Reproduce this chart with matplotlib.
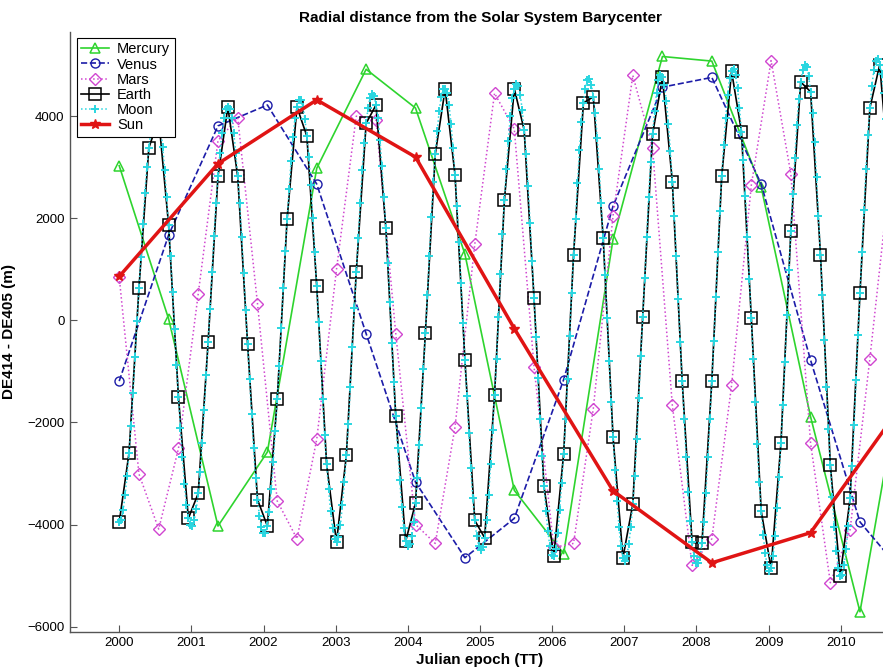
import numpy as np
import matplotlib
matplotlib.use('Agg')
import matplotlib.pyplot as plt

plt.rcParams['font.family'] = ['Liberation Sans', 'DejaVu Sans']

# DE414 - DE405 radial distance differences (m), sampled every N days from J2000
mercury = [3030, 30, -4030, -2580, 2980, 4920, 4160, 1300, -3330, -4570,
           1590, 5170, 5080, 2610, -1890, -5710, -200]
venus = [-1190, 1670, 3810, 4220, 2670, -260, -3170, -4650, -3880, -1160,
         2240, 4570, 4760, 2670, -780, -3950, -5100]
mars = [850, -3010, -4090, -2510, 520, 3520, 3970, 330, -3540, -4280,
        -2330, 1000, 4000, 3930, -260, -4000, -4370, -2090, 1490, 4450,
        3750, -910, -4450, -4370, -1730, 2050, 4800, 3370, -1660, -4800,
        -4280, -1270, 2650, 5090, 2870, -2410, -5140, -4100, -750, 2800]
earth = [-3960, -2590, 630, 3380, 3950, 1870, -1510, -3880, -3390, -430,
         2820, 4180, 2820, -470, -3510, -4030, -1550, 1990, 4180, 3610,
         670, -2820, -4350, -2640, 950, 3860, 4220, 1800, -1880, -4330,
         -3580, -240, 3260, 4530, 2850, -770, -3920, -4260, -1470, 2360,
         4540, 3730, 430, -3240, -4620, -2610, 1280, 4260, 4380, 1610,
         -2290, -4650, -3600, 70, 3650, 4760, 2720, -1190, -4350, -4370,
         -1190, 2820, 4880, 3700, 40, -3740, -4850, -2400, 1750, 4670,
         4480, 1290, -2840, -5010, -3490, 540, 4160, 5010, 2700]
moon = [-3960, -3910, -3720, -3420, -3040, -2590, -2060, -1420, -720, -10,
        630, 1250, 1890, 2490, 3000, 3380, 3700, 3930, 4060, 4070,
        3950, 3750, 3400, 2950, 2420, 1870, 1270, 560, -170, -880,
        -1510, -2100, -2680, -3200, -3610, -3880, -4010, -4020, -3910, -3700,
        -3390, -2970, -2400, -1760, -1080, -430, 230, 950, 1660, 2300,
        2820, 3280, 3670, 3960, 4140, 4180, 4140, 3960, 3670, 3280,
        2820, 2290, 1640, 920, 200, -470, -1140, -1840, -2500, -3080,
        -3510, -3830, -4050, -4170, -4160, -4030, -3750, -3310, -2770, -2170,
        -1550, -890, -150, 630, 1360, 1990, 2570, 3120, 3600, 3970,
        4180, 4310, 4310, 4180, 3950, 3610, 3200, 2650, 2010, 1330,
        670, -30, -790, -1550, -2250, -2820, -3310, -3740, -4070, -4290,
        -4350, -4250, -4000, -3620, -3160, -2640, -2040, -1310, -530, 250,
        950, 1620, 2300, 2940, 3470, 3860, 4170, 4360, 4440, 4400,
        4220, 3960, 3540, 3020, 2420, 1800, 1130, 360, -440, -1210,
        -1880, -2510, -3120, -3650, -4070, -4330, -4430, -4390, -4230, -3950,
        -3580, -3090, -2450, -1720, -960, -240, 490, 1260, 2030, 2710,
        3260, 3720, 4110, 4380, 4530, 4530, 4450, 4210, 3840, 3380,
        2850, 2250, 1530, 740, -50, -770, -1480, -2210, -2900, -3490,
        -3920, -4230, -4420, -4500, -4440, -4260, -3920, -3430, -2820, -2150,
        -1470, -750, 70, 900, 1690, 2360, 2960, 3520, 4000, 4350,
        4540, 4640, 4600, 4420, 4130, 3730, 3250, 2630, 1910, 1160,
        430, -320, -1130, -1930, -2660, -3240, -3730, -4130, -4430, -4600,
        -4620, -4470, -4160, -3720, -3190, -2610, -1940, -1150, -300, 530,
        1280, 1990, 2690, 3340, 3880, 4260, 4540, 4700, 4720, 4620,
        4380, 4060, 3570, 2960, 2290, 1610, 880, 50, -800, -1600,
        -2290, -2930, -3530, -4040, -4430, -4650, -4710, -4610, -4380, -4040,
        -3600, -3040, -2320, -1520, -700, 70, 830, 1640, 2420, 3110,
        3650, 4100, 4460, 4700, 4810, 4760, 4610, 4300, 3850, 3320,
        2720, 2050, 1260, 410, -430, -1190, -1930, -2670, -3360, -3940,
        -4350, -4620, -4750, -4750, -4630, -4370, -3960, -3380, -2680, -1940,
        -1190, -410, 450, 1330, 2140, 2820, 3430, 3970, 4420, 4740,
        4880, 4920, 4800, 4550, 4170, 3700, 3150, 2440, 1640, 820,
        40, -760, -1600, -2430, -3160, -3740, -4200, -4560, -4800, -4910,
        -4850, -4620, -4220, -3680, -3060, -2400, -1660, -810, 100, 980,
        1750, 2470, 3180, 3820, 4330, 4670, 4910, 5010, 4970, 4790,
        4480, 4070, 3490, 2800, 2040, 1290, 490, -390, -1300, -2130,
        -2840, -3470, -4040, -4510, -4850, -5010, -4990, -4800, -4470, -4020,
        -3490, -2850, -2050, -1170, -280, 540, 1340, 2170, 2960, 3640,
        4160, 4590, 4900, 5090, 5130, 5010, 4820, 4450, 3950, 3350,
        2700]
sun = [860, 3070, 4320, 3200, -160, -3340, -4750, -4160, -1450]

# sampling step of each series in days
steps = {'Mercury': 250, 'Venus': 250, 'Mars': 100, 'Earth': 50, 'Moon': 10, 'Sun': 500}


def epochs(step, n):
    return 2000.0 + np.arange(n) * step / 365.25


fig = plt.figure(figsize=(8.83, 6.69), dpi=100)
ax = fig.add_axes([70 / 883, 37.3 / 669, 820 / 883, 599.7 / 669])

ax.plot(epochs(steps['Mercury'], len(mercury)), mercury, '-', color='#2ed42e', lw=1.2,
        marker='^', ms=7, mfc='none', mew=1.1, label='Mercury')
ax.plot(epochs(steps['Venus'], len(venus)), venus, '--', color='#1c1ca8', lw=1.2,
        marker='o', ms=6.5, mfc='none', mew=1.0, label='Venus')
ax.plot(epochs(steps['Mars'], len(mars)), mars, ':', color='#d046d0', lw=1.1,
        marker='D', ms=6, mfc='none', mew=1.0, label='Mars')
ax.plot(epochs(steps['Earth'], len(earth)), earth, '-', color='black', lw=1.2,
        marker='s', ms=8.5, mfc='none', mew=1.1, label='Earth')
ax.plot(epochs(steps['Moon'], len(moon)), moon, ':', color='#2ad6e0', lw=1.1,
        marker='+', ms=5.5, mew=1.4, label='Moon')
ax.plot(epochs(steps['Sun'], len(sun)), sun, '-', color='#e01414', lw=2.5,
        marker='*', ms=7.5, mfc='#e01414', mec='#e01414', label='Sun')

ax.set_xlim(1999.318, 2010.683)
ax.set_ylim(-6100, 5650)
ax.set_xticks(range(2000, 2011))
ax.set_yticks(range(-6000, 4001, 2000))

for side in ('top', 'right'):
    ax.spines[side].set_visible(False)
for side in ('left', 'bottom'):
    ax.spines[side].set_color('#555555')
    ax.spines[side].set_linewidth(1.0)
ax.tick_params(direction='in', length=5, width=0.8, color='#555555',
               labelsize=9.5, labelcolor='black', pad=4)

ax.set_title('Radial distance from the Solar System Barycenter',
             fontsize=11, fontweight='bold', pad=7)
ax.set_xlabel('Julian epoch (TT)', fontsize=11, fontweight='bold', labelpad=3)
ax.set_ylabel('DE414 - DE405 (m)', fontsize=11, fontweight='bold', labelpad=8)

leg = ax.legend(loc='upper left', bbox_to_anchor=(0.0085, 0.99), borderaxespad=0,
                fontsize=10.5, fancybox=False, framealpha=1, edgecolor='black',
                handlelength=1.9, handletextpad=0.55, labelspacing=0.08,
                borderpad=0.3)
leg.get_frame().set_linewidth(0.8)

fig.savefig('out.png', dpi=100)
